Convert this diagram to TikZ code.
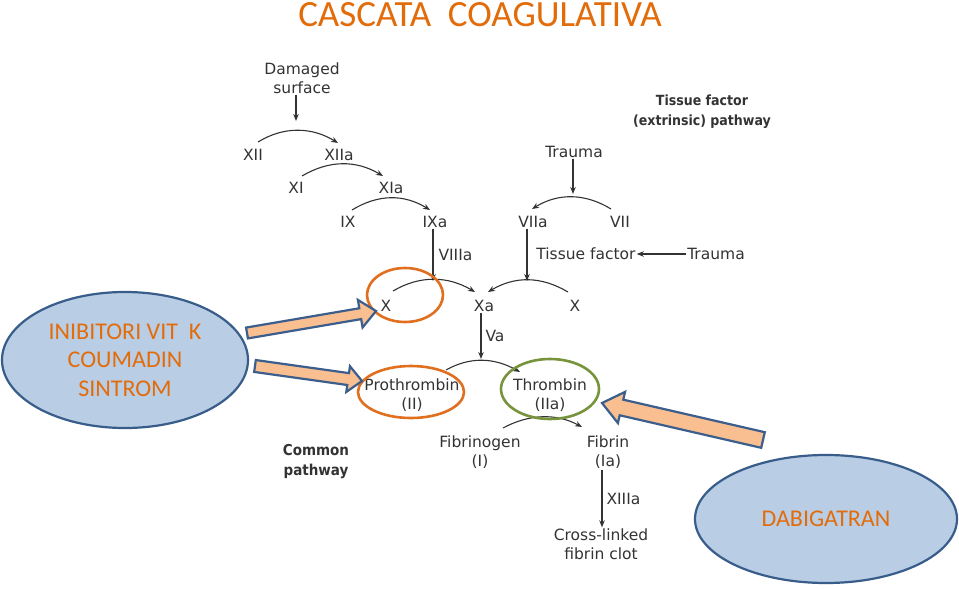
\documentclass[tikz,border=0pt]{standalone}
\usepackage{fontspec}
\setmainfont{DejaVu Sans}
\newfontfamily\calib{Carlito}
\newfontfamily\condb{DejaVu Sans Condensed}[BoldFont={DejaVu Sans Condensed Bold}]
\usetikzlibrary{calc,arrows.meta,shapes.geometric}
\definecolor{ink}{HTML}{333333}
\definecolor{titleorange}{HTML}{E36C0A}
\definecolor{ringorange}{HTML}{E07020}
\definecolor{ringgreen}{HTML}{77933C}
\definecolor{drugfill}{HTML}{B9CDE5}
\definecolor{drugline}{HTML}{385D8A}
\definecolor{barfill}{HTML}{F9BF90}
\definecolor{barline}{HTML}{3B5E8C}
\tikzset{
  lbl/.style={font=\fontsize{15.5}{19}\selectfont, text=ink, inner sep=1pt, align=center},
  blbl/.style={font=\condb\fontsize{14}{20}\selectfont\bfseries, text=ink, inner sep=1pt, align=center},
  arr/.style={draw=ink, line width=1.1pt, -{Stealth[length=7pt,width=5.5pt]}},
  arcarr/.style={draw=ink, line width=1.1pt, -{Stealth[length=7pt,width=5.5pt]}},
  ring/.style={draw=ringorange, line width=2.6pt},
  gring/.style={draw=ringgreen, line width=2.6pt},
  drug/.style={ellipse, draw=drugline, fill=drugfill, line width=2.2pt, inner sep=0pt,
    text=titleorange, font=\calib\fontsize{24}{28.5}\selectfont, align=center},
  barrow/.style={draw=barline, fill=barfill, line width=2.2pt, line join=miter},
}
\newcommand\blockarrow[5]{%
  \coordinate (ba-c) at ($(#2)!#5!(#1)$);
  \filldraw[barrow] ($(#1)!#3!90:(#2)$) -- ($(ba-c)!#3!-90:(#1)$) -- ($(ba-c)!#4!-90:(#1)$)
    -- (#2) -- ($(ba-c)!#4!90:(#1)$) -- ($(ba-c)!#3!90:(#1)$) -- ($(#1)!#3!-90:(#2)$) -- cycle;}
\begin{document}
\begin{tikzpicture}[x=1pt,y=-1pt]
\useasboundingbox (0,0) rectangle (959,589);
\fill[white] (0,0) rectangle (959,589);

% title
\node[anchor=base, text=titleorange, font=\calib\fontsize{37}{40}\selectfont, inner sep=0pt] (title) at (480,27) {CASCATA\ \ COAGULATIVA};

% intrinsic pathway
\node[lbl] (dam) at (302,78) {Damaged\\surface};
\node[lbl] (XII) at (253,155) {XII};
\node[lbl] (XIIa) at (339,155) {XIIa};
\node[lbl] (XI) at (296,188) {XI};
\node[lbl] (XIa) at (391,188) {XIa};
\node[lbl] (IX) at (348,222) {IX};
\node[lbl] (IXa) at (435,222) {IXa};

% extrinsic pathway
\node[blbl] (tfp) at (702,112) {Tissue factor\\(extrinsic) pathway};
\node[lbl] (tr1) at (574,152) {Trauma};
\node[lbl] (VIIa) at (533,222) {VIIa};
\node[lbl] (VII) at (620,222) {VII};
\node[lbl] (tf) at (586,254) {Tissue factor};
\node[lbl] (tr2) at (716,254) {Trauma};

% common pathway
\node[lbl] (X1) at (386,306) {X};
\node[lbl] (Xa) at (484,306) {Xa};
\node[lbl] (X2) at (575,306) {X};
\node[lbl] (pro) at (412,395) {Prothrombin\\(II)};
\node[lbl] (thr) at (550,395) {Thrombin\\(IIa)};
\node[lbl] (fibg) at (480,452) {Fibrinogen\\(I)};
\node[lbl] (fib) at (608,452) {Fibrin\\(Ia)};
\node[blbl, font=\condb\fontsize{15}{20}\selectfont\bfseries] (common) at (316,462) {Common\\pathway};
\node[lbl] (clot) at (601,544) {Cross-linked\\fibrin clot};

% straight arrows
\coordinate (dmT) at (296,121);
\coordinate (ixT) at (433,281);
\coordinate (viiT) at (527,281);
\coordinate (trT) at (573,194);
\coordinate (xaT) at (481,359);
\draw[arr] (dam.south -| dmT) -- (dmT);
\draw[arr] (IXa.south -| ixT) -- (ixT) node[lbl, midway, right=4pt] (VIIIa) {VIIIa};
\draw[arr] (VIIa.south -| viiT) -- (viiT);
\draw[arr] (tr1.south -| trT) -- (trT);
\draw[arr] (tr2.west) -- (tf.east);
\draw[arr] (Xa.south -| xaT) -- (xaT) node[lbl, midway, right=3pt] (Va) {Va};
\draw[arr] ([xshift=-6pt]fib.south) -- ([xshift=1pt]clot.north) node[lbl, midway, right=3pt] (XIIIa) {XIIIa};

% reaction arcs
\draw[arcarr] ($(XII)+(5,-13)$) .. controls +(26,-16) and +(-26,-16) .. ($(XIIa)+(-1,-12)$);
\draw[arcarr] ($(XI)+(6,-12)$) .. controls +(27,-16) and +(-27,-16) .. ($(XIa)+(-8,-12)$);
\draw[arcarr] ($(IX)+(4,-12)$) .. controls +(26,-16) and +(-26,-16) .. ($(IXa)+(-5,-12)$);
\draw[arcarr] ($(VII)+(-9,-13)$) .. controls +(-26,-16) and +(26,-16) .. ($(VIIa)+(-1,-13)$);
\draw[arcarr] ($(X1)+(7,-15)$) .. controls +(27,-16) and +(-27,-16) .. ($(Xa)+(-9,-14)$);
\draw[arcarr] ($(X2)+(-7,-14)$) .. controls +(-27,-16) and +(27,-16) .. ($(Xa)+(4,-14)$);
\draw[arcarr] ($(pro)+(34,-25)$) .. controls +(25,-14) and +(-25,-14) .. ($(thr)+(-30,-23)$);
\draw[arcarr] ($(fibg)+(23,-24)$) .. controls +(26,-14) and +(-26,-14) .. ($(fib)+(-26,-25)$);

% rings
\draw[ring] (405,295) ellipse [x radius=38, y radius=27];
\draw[ring] (411,392) ellipse [x radius=53, y radius=26];
\draw[gring] (550,389) ellipse [x radius=49, y radius=30];

% drugs
\node[drug, minimum width=246, minimum height=136] (inib) at (125,360) {INIBITORI VIT\ \ K\\COUMADIN\\SINTROM};
\node[drug, minimum width=262, minimum height=128] (dabi) at (826,519) {DABIGATRAN};

% block arrows
\coordinate (a1s) at (247,333);
\coordinate (a1e) at (376,311);
\coordinate (a2s) at (255,366);
\coordinate (a2e) at (362,381);
\coordinate (a3s) at (763,440);
\coordinate (a3e) at (602,403);
\blockarrow{a1s}{a1e}{5.5pt}{14pt}{16pt}
\blockarrow{a2s}{a2e}{6pt}{13pt}{14pt}
\blockarrow{a3s}{a3e}{8pt}{16pt}{20pt}
\end{tikzpicture}
\end{document}
